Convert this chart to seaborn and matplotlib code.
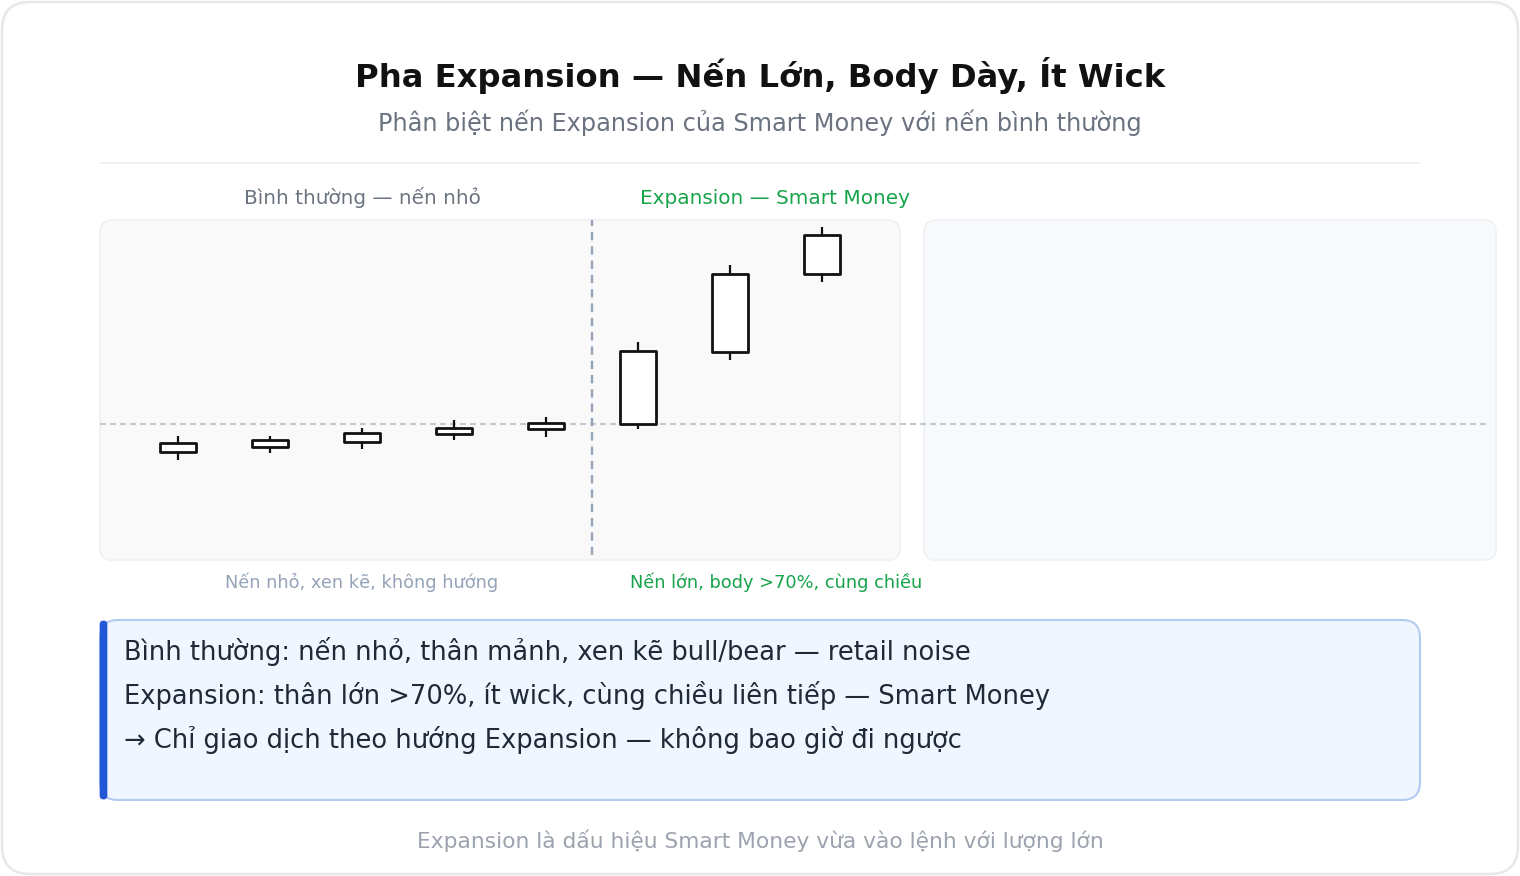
import matplotlib
matplotlib.use("Agg")
import matplotlib.pyplot as plt
import seaborn as sns
from matplotlib.patches import FancyBboxPatch

# candle data (price units; 100 = reference level)
candles = ["N1", "N2", "N3", "N4", "N5", "E1", "E2", "E3"]
opens = [97.2, 97.7, 98.2, 99.0, 99.5, 100.0, 107.2, 115.0]
closes = [98.1, 98.4, 99.1, 99.6, 100.1, 107.3, 115.0, 118.9]
highs = [98.8, 98.8, 99.6, 100.4, 100.7, 108.2, 115.9, 119.7]
lows = [96.4, 97.1, 97.5, 98.4, 98.7, 99.5, 106.4, 114.2]
ref_level = 100.0
split_at = 4.5

title = "Pha Expansion — Nến Lớn, Body Dày, Ít Wick"
subtitle = "Phân biệt nến Expansion của Smart Money với nến bình thường"
label_normal = "Bình thường — nến nhỏ"
label_exp = "Expansion — Smart Money"
note_normal = "Nến nhỏ, xen kẽ, không hướng"
note_exp = "Nến lớn, body >70%, cùng chiều"
box_lines = [
    "Bình thường: nến nhỏ, thân mảnh, xen kẽ bull/bear — retail noise",
    "Expansion: thân lớn >70%, ít wick, cùng chiều liên tiếp — Smart Money",
    "→ Chỉ giao dịch theo hướng Expansion — không bao giờ đi ngược",
]
footer = "Expansion là dấu hiệu Smart Money vừa vào lệnh với lượng lớn"

sns.set_theme(style="white")
plt.rcParams['font.family'] = ['DejaVu Sans']
plt.rcParams['lines.scale_dashes'] = False

W, H = 1520, 876
fig = plt.figure(figsize=(W / 100, H / 100), dpi=100)
fig.patch.set_facecolor("white")

# background layer in pixel coords
bg = fig.add_axes([0, 0, 1, 1])
bg.set_xlim(0, W)
bg.set_ylim(H, 0)
bg.axis("off")
bg.set_zorder(0)


def rbox(x0, y0, x1, y1, r, fc, ec, lw=1.0):
    p = FancyBboxPatch((x0 + r, y0 + r), x1 - x0 - 2 * r, y1 - y0 - 2 * r,
                       boxstyle=f"round,pad={r}", fc=fc, ec=ec, lw=lw)
    bg.add_patch(p)


rbox(2, 2, 1518, 874, 28, "white", "#e5e7eb", 1.8)
bg.plot([100, 1420], [163, 163], color="#eceef1", lw=1.2)
rbox(100, 220, 900, 560, 12, "#f9f9f9", "#f0f0f1", 1.2)
rbox(924, 220, 1496, 560, 12, "#f8f9fb", "#eef1f5", 1.2)
rbox(100, 620, 1420, 800, 18, "#eff6ff", "#b4cbf3", 1.5)
rbox(100, 621, 107, 799, 3, "#2257d6", "#2257d6", 0.5)

bg.text(760, 87, title, ha="center", va="baseline", fontsize=23.2,
        fontweight="bold", color="#111111")
bg.text(760, 131.5, subtitle, ha="center", va="baseline", fontsize=17.3,
        color="#6b7280")
bg.text(362, 203.5, label_normal, ha="center", va="baseline", fontsize=14.4,
        color="#6b7280")
bg.text(775, 203.5, label_exp, ha="center", va="baseline", fontsize=14.4,
        color="#16a34a")
bg.text(362, 587.5, note_normal, ha="center", va="baseline", fontsize=12.8,
        color="#94a3b8")
bg.text(776, 587.5, note_exp, ha="center", va="baseline", fontsize=12.8,
        color="#16a34a")
for i, line in enumerate(box_lines):
    bg.text(124, 660 + 44 * i, line, ha="left", va="baseline", fontsize=18.5,
            color="#1f2937")
bg.text(760, 848, footer, ha="center", va="baseline", fontsize=15.7,
        color="#9ca3af")

# candle axes: px 100..1496 horizontally, 220..560 vertically
ax = fig.add_axes([100 / W, 1 - 560 / H, 1396 / W, 340 / H])
ax.set_zorder(1)
ax.patch.set_alpha(0)
ax.axis("off")
ax.set_xlim(-0.848, 14.326)
ax.set_ylim(86.4, 120.4)

xs = list(range(len(candles)))
ax.axhline(ref_level, xmin=0, xmax=1387 / 1396, color="#bcc3cf", lw=1.3,
           linestyle=(0, (4.3, 2.9)), zorder=1)
ax.vlines(split_at, 86.9, 120.4, color="#94a3b8", lw=1.7,
          linestyle=(0, (6, 4.3)), zorder=1)
ax.vlines(xs, lows, highs, color="#111111", lw=1.6, zorder=2)
bottoms = [min(o, c) for o, c in zip(opens, closes)]
heights = [abs(c - o) for o, c in zip(opens, closes)]
ax.bar(xs, heights, bottom=bottoms, width=0.40, color="white",
       edgecolor="#111111", linewidth=2.0, joinstyle="round", zorder=3)

fig.savefig("out.png", dpi=100, facecolor="white")
